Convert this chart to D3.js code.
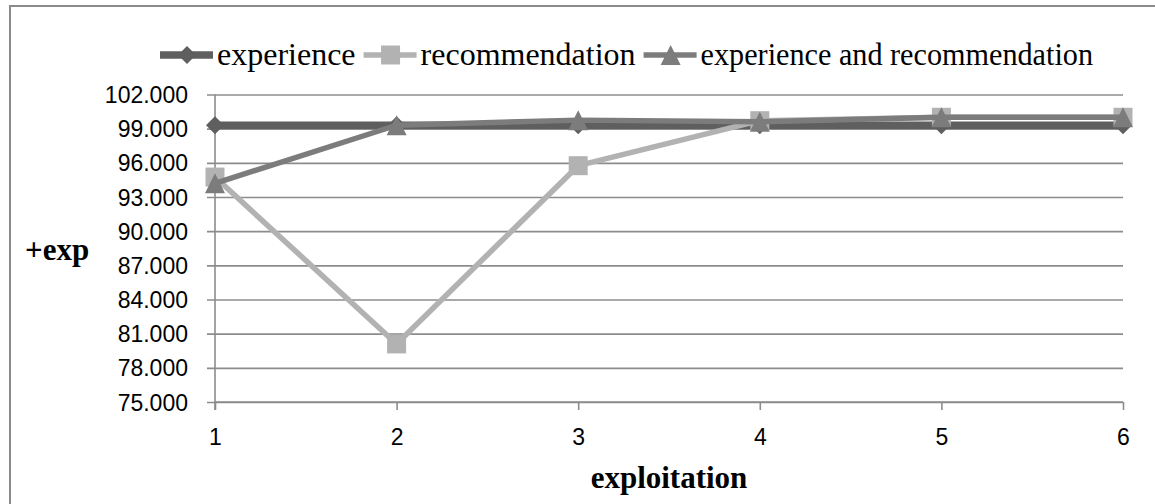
<!DOCTYPE html>
<html><head><meta charset="utf-8">
<script src="https://cdn.jsdelivr.net/npm/d3@7"></script>
<style>html,body{margin:0;padding:0;background:#fff;}svg{display:block;}</style>
</head><body>
<svg id="chart" width="1155" height="504"></svg>
<script>
const categories = [1, 2, 3, 4, 5, 6];
const experience = [99.3, 99.3, 99.3, 99.3, 99.3, 99.3];
const recommendation = [94.75, 80.1, 95.75, 99.7, 100.0, 100.0];
const expAndRec = [94.2, 99.3, 99.75, 99.6, 100.0, 100.0];
const yTicks = [75, 78, 81, 84, 87, 90, 93, 96, 99, 102];
const seriesNames = ["experience", "recommendation", "experience and recommendation"];

const series = [
  {name: seriesNames[0], values: experience, color: "#5f5f5f", width: 7.5, marker: "diamond"},
  {name: seriesNames[1], values: recommendation, color: "#b2b2b2", width: 5.5, marker: "square"},
  {name: seriesNames[2], values: expAndRec, color: "#7c7c7c", width: 5.5, marker: "triangle"}
];

const svg = d3.select("#chart");
const x = d3.scalePoint().domain(categories).range([215, 1123]);
const y = d3.scaleLinear().domain([75, 102]).range([402, 94.5]);

// outer border
svg.append("rect").attr("x", 10).attr("y", 6).attr("width", 1160).attr("height", 520)
  .attr("fill", "none").attr("stroke", "#8a8a8a").attr("stroke-width", 2);

// gridlines + y axis
const yAxis = d3.axisLeft(y).tickValues(yTicks).tickSize(0).tickFormat(d3.format(".3f"));
const gy = svg.append("g").attr("transform", "translate(215,0)").call(yAxis);
gy.select(".domain").remove();
gy.selectAll(".tick text").attr("x", -27).attr("dy", "0.35em")
  .attr("font-family", "Liberation Sans, Arial, sans-serif").attr("font-size", 23).attr("fill", "#000");
gy.selectAll(".tick").append("line").attr("x1", -8).attr("x2", 1123 - 215)
  .attr("stroke", "#8c8c8c").attr("stroke-width", 1.6);

// y axis line
svg.append("line").attr("x1", 215).attr("x2", 215).attr("y1", y(102)).attr("y2", 410)
  .attr("stroke", "#8c8c8c").attr("stroke-width", 1.6);

// x axis
const xAxis = d3.axisBottom(x).tickSize(8).tickPadding(0);
const gx = svg.append("g").attr("transform", "translate(0,402)").call(xAxis);
gx.select(".domain").attr("d", `M215,0H1123`).attr("stroke", "#8c8c8c").attr("stroke-width", 1.6);
gx.selectAll(".tick line").attr("stroke", "#8c8c8c").attr("stroke-width", 1.6);
gx.selectAll(".tick text").attr("y", 43).attr("dy", null)
  .attr("font-family", "Liberation Sans, Arial, sans-serif").attr("font-size", 23).attr("fill", "#000");

function markerPath(type, s) {
  const h = s / 2;
  if (type === "diamond") return `M0,${-h}L${h},0L0,${h}L${-h},0Z`;
  if (type === "square") return `M${-h},${-h}H${h}V${h}H${-h}Z`;
  return `M0,${-h}L${h},${h}L${-h},${h}Z`;
}
const markerSize = {diamond: 18, square: 19, triangle: 20};

const line = d3.line().x((d, i) => x(categories[i])).y(d => y(d));
series.forEach(s => {
  const g = svg.append("g");
  g.append("path").attr("d", line(s.values)).attr("fill", "none")
    .attr("stroke", s.color).attr("stroke-width", s.width).attr("stroke-linejoin", "round");
  g.selectAll("path.m").data(s.values).join("path").attr("class", "m")
    .attr("transform", (d, i) => `translate(${x(categories[i])},${y(d)})`)
    .attr("d", markerPath(s.marker, markerSize[s.marker])).attr("fill", s.color);
});

// legend
const legend = svg.append("g");
let lx = 160;
const ly = 55;
series.forEach((s, i) => {
  const it = legend.append("g");
  it.append("line").attr("x1", lx).attr("x2", lx + 53).attr("y1", ly).attr("y2", ly)
    .attr("stroke", s.color).attr("stroke-width", s.width);
  it.append("path").attr("transform", `translate(${lx + 27},${ly})`)
    .attr("d", markerPath(s.marker, markerSize[s.marker])).attr("fill", s.color);
  const t = it.append("text").attr("x", lx + 57).attr("y", ly + 10)
    .attr("font-family", "Liberation Serif, Times New Roman, serif").attr("font-size", 32)
    .attr("fill", "#000").text(s.name);
  if (i === series.length - 1) {
    t.attr("textLength", 1093 - (lx + 57)).attr("lengthAdjust", "spacingAndGlyphs");
  }
  lx += 57 + t.node().getComputedTextLength() + 8;
});

// axis titles
svg.append("text").attr("x", 25).attr("y", 260)
  .attr("font-family", "Liberation Serif, Times New Roman, serif").attr("font-size", 31)
  .attr("font-weight", "bold").attr("fill", "#000").text("+exp");
svg.append("text").attr("x", (215 + 1123) / 2).attr("y", 488).attr("text-anchor", "middle")
  .attr("font-family", "Liberation Serif, Times New Roman, serif").attr("font-size", 31)
  .attr("font-weight", "bold").attr("fill", "#000").text("exploitation");
</script>
</body></html>
